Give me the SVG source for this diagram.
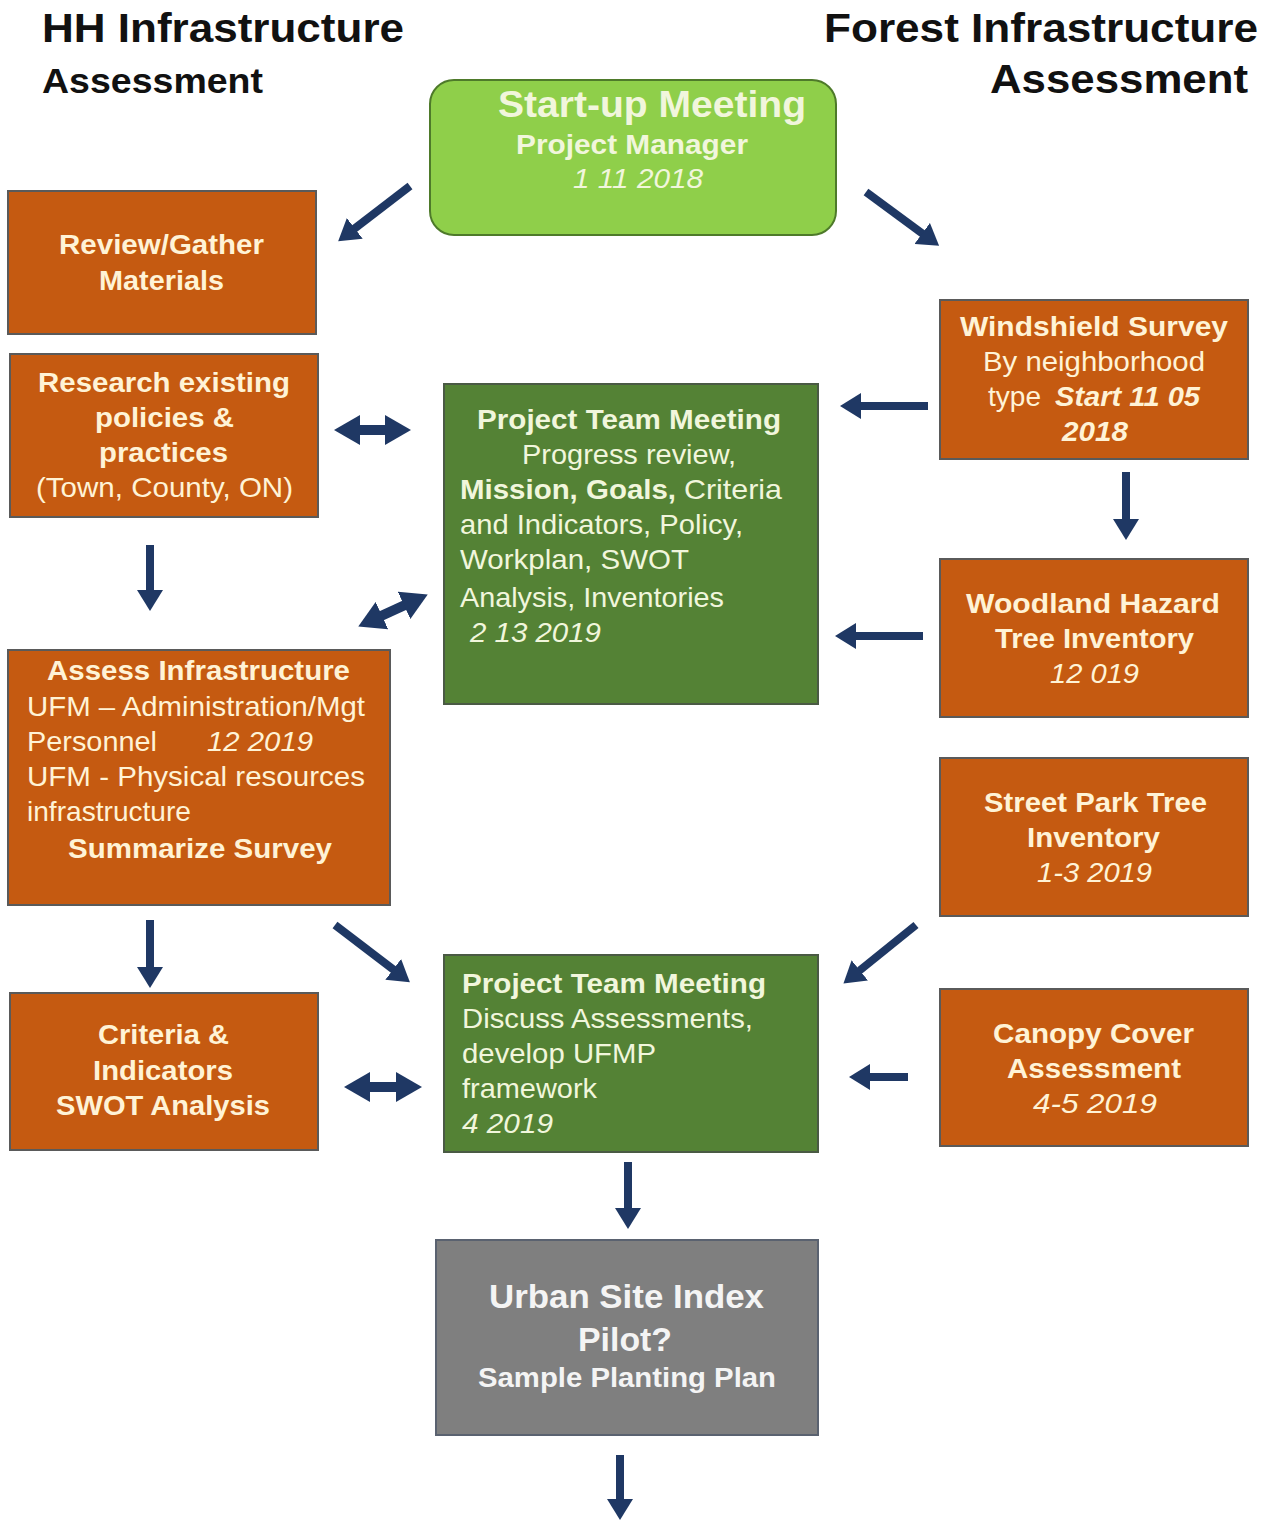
<svg xmlns="http://www.w3.org/2000/svg" width="1267" height="1522" viewBox="0 0 1267 1522">
<defs>
<style>
text{font-family:"Liberation Sans",Arial,sans-serif;}
.title{font-weight:bold;fill:#111;}
.or{fill:#C55A11;stroke:#5a5a5a;stroke-width:2;}
.dg{fill:#548235;stroke:#4a5a44;stroke-width:2;}
.lg{fill:#8FCF4A;stroke:#4E7A2A;stroke-width:2;}
.gy{fill:#7F7F7F;stroke:#5a6270;stroke-width:2;}
.tc{fill:#FFF3D6;}
.tg{fill:#F1F6DC;}
.tw{fill:#F4F4F4;}
.b{font-weight:bold;font-size:27px;}
.r{font-size:28px;}
.i{font-style:italic;font-size:28px;}
.bi{font-style:italic;font-weight:bold;font-size:27px;}
.m{text-anchor:middle;}
.conn line{stroke:#1F3864;stroke-width:8;fill:none;}
.conn line.dbl{stroke-width:10;}
</style>
<marker id="ah" markerUnits="userSpaceOnUse" markerWidth="22" markerHeight="26" refX="1" refY="13" orient="auto-start-reverse">
<path d="M0,0 L21,13 L0,26 z" fill="#1F3864"/>
</marker>
<marker id="ah2" markerUnits="userSpaceOnUse" markerWidth="27" markerHeight="30" refX="1" refY="15" orient="auto-start-reverse">
<path d="M0,0 L26,15 L0,30 z" fill="#1F3864"/>
</marker>
</defs>
<rect width="1267" height="1522" fill="#FFFFFF"/>

<g id="titles">
<text class="title" x="42" y="42" font-size="40" textLength="362" lengthAdjust="spacingAndGlyphs">HH Infrastructure</text>
<text class="title" x="42" y="93" font-size="35" textLength="221" lengthAdjust="spacingAndGlyphs">Assessment</text>
<text class="title" x="824" y="42" font-size="40" textLength="434" lengthAdjust="spacingAndGlyphs">Forest Infrastructure</text>
<text class="title" x="990" y="93" font-size="40" textLength="258" lengthAdjust="spacingAndGlyphs">Assessment</text>
</g>

<g id="startup">
<rect class="lg" x="430" y="80" width="406" height="155" rx="24"/>
<text class="tg" x="498" y="117" font-weight="bold" font-size="37" textLength="308" lengthAdjust="spacingAndGlyphs">Start-up Meeting</text>
<text class="tg b" x="516" y="154" textLength="232" lengthAdjust="spacingAndGlyphs">Project Manager</text>
<text class="tg i" x="573" y="188" textLength="130" lengthAdjust="spacingAndGlyphs">1 11 2018</text>
</g>

<g id="review">
<rect class="or" x="8" y="191" width="308" height="143"/>
<text class="tc b" x="59" y="254" textLength="205" lengthAdjust="spacingAndGlyphs">Review/Gather</text>
<text class="tc b" x="99" y="290" textLength="125" lengthAdjust="spacingAndGlyphs">Materials</text>
</g>

<g id="research">
<rect class="or" x="10" y="354" width="308" height="163"/>
<text class="tc b" x="38" y="392" textLength="252" lengthAdjust="spacingAndGlyphs">Research existing</text>
<text class="tc b" x="95" y="427" textLength="139" lengthAdjust="spacingAndGlyphs">policies &amp;</text>
<text class="tc b" x="99" y="462" textLength="129" lengthAdjust="spacingAndGlyphs">practices</text>
<text class="tc r" x="36" y="497" textLength="257" lengthAdjust="spacingAndGlyphs">(Town,  County,  ON)</text>
</g>

<g id="windshield">
<rect class="or" x="940" y="300" width="308" height="159"/>
<text class="tc b" x="960" y="336" textLength="268" lengthAdjust="spacingAndGlyphs">Windshield  Survey</text>
<text class="tc r" x="983" y="371" textLength="222" lengthAdjust="spacingAndGlyphs">By neighborhood</text>
<text class="tc r" x="988" y="406" textLength="53" lengthAdjust="spacingAndGlyphs">type</text>
<text class="tc bi" x="1055" y="406" textLength="145" lengthAdjust="spacingAndGlyphs">Start 11 05</text>
<text class="tc bi" x="1062" y="441" textLength="66" lengthAdjust="spacingAndGlyphs">2018</text>
</g>

<g id="ptm1">
<rect class="dg" x="444" y="384" width="374" height="320"/>
<text class="tg b" x="477" y="429" textLength="304" lengthAdjust="spacingAndGlyphs">Project  Team Meeting</text>
<text class="tg r" x="522" y="464" textLength="214" lengthAdjust="spacingAndGlyphs">Progress review,</text>
<text class="tg b" x="460" y="499" textLength="216" lengthAdjust="spacingAndGlyphs">Mission, Goals,</text>
<text class="tg r" x="684" y="499" textLength="98" lengthAdjust="spacingAndGlyphs">Criteria</text>
<text class="tg r" x="460" y="534" textLength="283" lengthAdjust="spacingAndGlyphs">and Indicators,  Policy,</text>
<text class="tg r" x="460" y="569" textLength="229" lengthAdjust="spacingAndGlyphs">Workplan,  SWOT</text>
<text class="tg r" x="460" y="607" textLength="264" lengthAdjust="spacingAndGlyphs">Analysis, Inventories</text>
<text class="tg i" x="470" y="642" textLength="131" lengthAdjust="spacingAndGlyphs">2 13 2019</text>
</g>

<g id="woodland">
<rect class="or" x="940" y="559" width="308" height="158"/>
<text class="tc b" x="966" y="613" textLength="254" lengthAdjust="spacingAndGlyphs">Woodland Hazard</text>
<text class="tc b" x="995" y="648" textLength="199" lengthAdjust="spacingAndGlyphs">Tree Inventory</text>
<text class="tc i" x="1050" y="683" textLength="89" lengthAdjust="spacingAndGlyphs">12 019</text>
</g>

<g id="assess">
<rect class="or" x="8" y="650" width="382" height="255"/>
<text class="tc b" x="47" y="680" textLength="303" lengthAdjust="spacingAndGlyphs">Assess Infrastructure</text>
<text class="tc r" x="27" y="716" textLength="338" lengthAdjust="spacingAndGlyphs">UFM – Administration/Mgt</text>
<text class="tc r" x="27" y="751" textLength="130" lengthAdjust="spacingAndGlyphs">Personnel</text>
<text class="tc i" x="207" y="751" textLength="106" lengthAdjust="spacingAndGlyphs">12 2019</text>
<text class="tc r" x="27" y="786" textLength="338" lengthAdjust="spacingAndGlyphs">UFM - Physical  resources</text>
<text class="tc r" x="27" y="821" textLength="164" lengthAdjust="spacingAndGlyphs">infrastructure</text>
<text class="tc b" x="68" y="858" textLength="264" lengthAdjust="spacingAndGlyphs">Summarize Survey</text>
</g>

<g id="street">
<rect class="or" x="940" y="758" width="308" height="158"/>
<text class="tc b" x="984" y="812" textLength="223" lengthAdjust="spacingAndGlyphs">Street Park Tree</text>
<text class="tc b" x="1027" y="847" textLength="133" lengthAdjust="spacingAndGlyphs">Inventory</text>
<text class="tc i" x="1037" y="882" textLength="115" lengthAdjust="spacingAndGlyphs">1-3 2019</text>
</g>

<g id="criteria">
<rect class="or" x="10" y="993" width="308" height="157"/>
<text class="tc b" x="98" y="1044" textLength="131" lengthAdjust="spacingAndGlyphs">Criteria &amp;</text>
<text class="tc b" x="93" y="1080" textLength="140" lengthAdjust="spacingAndGlyphs">Indicators</text>
<text class="tc b" x="56" y="1115" textLength="214" lengthAdjust="spacingAndGlyphs">SWOT Analysis</text>
</g>

<g id="ptm2">
<rect class="dg" x="444" y="955" width="374" height="197"/>
<text class="tg b" x="462" y="993" textLength="304" lengthAdjust="spacingAndGlyphs">Project  Team Meeting</text>
<text class="tg r" x="462" y="1028" textLength="291" lengthAdjust="spacingAndGlyphs">Discuss Assessments,</text>
<text class="tg r" x="462" y="1063" textLength="194" lengthAdjust="spacingAndGlyphs">develop UFMP</text>
<text class="tg r" x="462" y="1098" textLength="135" lengthAdjust="spacingAndGlyphs">framework</text>
<text class="tg i" x="462" y="1133" textLength="91" lengthAdjust="spacingAndGlyphs">4 2019</text>
</g>

<g id="canopy">
<rect class="or" x="940" y="989" width="308" height="157"/>
<text class="tc b" x="993" y="1043" textLength="201" lengthAdjust="spacingAndGlyphs">Canopy Cover</text>
<text class="tc b" x="1007" y="1078" textLength="174" lengthAdjust="spacingAndGlyphs">Assessment</text>
<text class="tc i" x="1033" y="1113" textLength="124" lengthAdjust="spacingAndGlyphs">4-5  2019</text>
</g>

<g id="urban">
<rect class="gy" x="436" y="1240" width="382" height="195"/>
<text class="tw" x="489" y="1308" font-weight="bold" font-size="34" textLength="275" lengthAdjust="spacingAndGlyphs">Urban Site Index</text>
<text class="tw" x="578" y="1351" font-weight="bold" font-size="34" textLength="94" lengthAdjust="spacingAndGlyphs">Pilot?</text>
<text class="tw b" x="478" y="1387" textLength="298" lengthAdjust="spacingAndGlyphs">Sample Planting Plan</text>
</g>

<g id="connectors" class="conn">
<line x1="410" y1="186" x2="354" y2="229" marker-end="url(#ah)"/>
<line x1="866" y1="192" x2="923" y2="234" marker-end="url(#ah)"/>
<line x1="928" y1="406" x2="860" y2="406" marker-end="url(#ah)"/>
<line x1="1126" y1="472" x2="1126" y2="520" marker-end="url(#ah)"/>
<line class="dbl" x1="359" y1="430" x2="386" y2="430" marker-start="url(#ah2)" marker-end="url(#ah2)"/>
<line x1="150" y1="545" x2="150" y2="591" marker-end="url(#ah)"/>
<line class="dbl" x1="381" y1="616" x2="405" y2="605" marker-start="url(#ah2)" marker-end="url(#ah2)"/>
<line x1="923" y1="636" x2="855" y2="636" marker-end="url(#ah)"/>
<line x1="150" y1="920" x2="150" y2="968" marker-end="url(#ah)"/>
<line x1="335" y1="925" x2="394" y2="970" marker-end="url(#ah)"/>
<line x1="916" y1="925" x2="859" y2="971" marker-end="url(#ah)"/>
<line class="dbl" x1="369" y1="1087" x2="397" y2="1087" marker-start="url(#ah2)" marker-end="url(#ah2)"/>
<line x1="908" y1="1077" x2="869" y2="1077" marker-end="url(#ah)"/>
<line x1="628" y1="1162" x2="628" y2="1209" marker-end="url(#ah)"/>
<line x1="620" y1="1455" x2="620" y2="1500" marker-end="url(#ah)"/>
</g>
</svg>
